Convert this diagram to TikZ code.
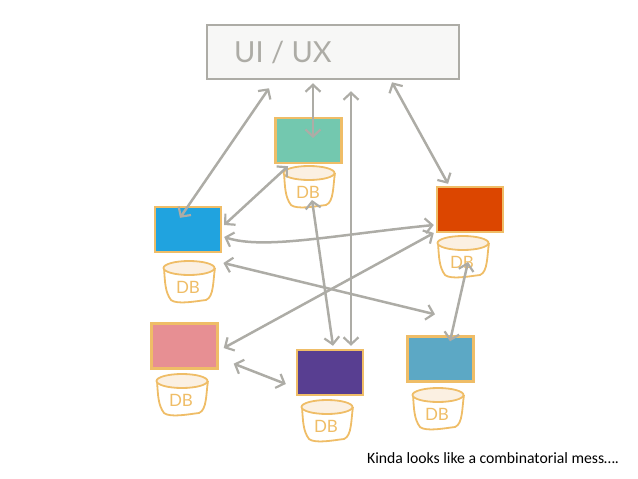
\documentclass[tikz,border=0pt]{standalone}
\usepackage{fontspec}
\setmainfont{Carlito}
\newfontfamily\sketchfont{Lato}
\usepackage{tikz}
\usetikzlibrary{arrows.meta, positioning, shapes.geometric}
\definecolor{linkgray}{HTML}{ADACA6}
\definecolor{tuborange}{HTML}{EFBD67}
\definecolor{tubfill}{HTML}{FBF0E2}
\def\tubfont{\sketchfont\fontsize{17}{17}\selectfont}
% name, centre of the lid
\newcommand{\dbtub}[3]{
    \draw[tub line] (#2-25,#3) .. controls (#2-24,#3+14) and (#2-24,#3+24) .. (#2-18,#3+32)
        .. controls (#2-12,#3+37) and (#2+8,#3+33) .. (#2+17,#3+32)
        .. controls (#2+25,#3+29) and (#2+24,#3+12) .. (#2+26,#3);
    \node[tub lid] (#1) at (#2,#3) {};
    \node[tub label] (#1text) at (#2-1,#3+19) {DB};
}
\begin{document}
\begin{tikzpicture}[
    x=1pt,
    y=-1pt,
    link/.style={
        draw=#1,
        line width=2.5pt,
        <->,
        >={Straight Barb[length=7pt, width=15pt, line width=2.2pt]}
    },
    service/.style={
        draw=tuborange,
        line width=2.4pt,
        rectangle,
        inner sep=0pt,
        minimum width=66pt,
        minimum height=45pt
    },
    tub line/.style={
        draw=tuborange,
        line width=1.8pt
    },
    tub lid/.style={
        draw=tuborange,
        fill=tubfill,
        line width=1.8pt,
        ellipse,
        inner sep=0pt,
        minimum width=51pt,
        minimum height=14pt
    },
    tub label/.style={
        text=tuborange,
        font=\tubfont
    }
]
    \useasboundingbox (0,0) rectangle (638,479);

    \node[draw=linkgray, line width=2.5pt, fill=white!90!linkgray, rectangle, inner sep=0pt, minimum width=252pt, minimum height=54pt] (ui) at (333,52) {};
    \node[text=linkgray, font=\sketchfont\fontsize{29}{29}\selectfont] (uitext) at (283,52) {UI / UX};

    \dbtub{tealdb}{309}{173}
    \dbtub{reddb}{463}{243}
    \dbtub{bluedb}{189}{268}
    \dbtub{pinkdb}{182}{381}
    \dbtub{purpledb}{327}{407}
    \dbtub{skydb}{438}{395}

    \node[service, fill={rgb,255:red,115;green,200;blue,175}] (teal) at (308.5,140.5) {};
    \node[service, fill={rgb,255:red,32;green,163;blue,223}] (blue) at (188,229.5) {};
    \node[service, fill={rgb,255:red,220;green,70;blue,0}] (red) at (470,209.5) {};
    \node[service, fill={rgb,255:red,231;green,143;blue,147}] (pink) at (184.5,346) {};
    \node[service, fill={rgb,255:red,88;green,62;blue,145}] (purple) at (330,372.5) {};
    \node[service, fill={rgb,255:red,92;green,168;blue,197}] (sky) at (440.5,359) {};

    \draw[link=linkgray] ([shift={(-64,8)}]ui.south) -- ([shift={(-8,12)}]blue.north);
    \draw[link=linkgray] ([shift={(-20,3)}]ui.south) -- ([shift={(4.5,-2.5)}]teal.center);
    \draw[link=linkgray] ([shift={(18,11)}]ui.south) -- ([shift={(21,-3)}]purple.north);
    \draw[link=linkgray] ([shift={(59,2)}]ui.south) -- ([shift={(-22,-2)}]red.north);

    \draw[link=linkgray] ([shift={(-20.5,2)}]teal.south) -- ([shift={(2,-4.5)}]blue.east);
    \draw[link=linkgray] ([shift={(2,7.5)}]blue.east) .. controls +(40,13) and +(-100,10) .. ([shift={(-2,15.5)}]red.west);
    \draw[link=linkgray] ([shift={(-2,23.5)}]red.west) -- ([shift={(5,2)}]pink.east);
    \draw[link=linkgray] ([shift={(8,-5)}]bluedb.east) -- ([shift={(-5.5,-21)}]sky.north);

    \draw[link=linkgray] ([shift={(3,27)}]tealdb.center) -- ([shift={(3,-3)}]purple.north);
    \draw[link=linkgray] ([shift={(5,19)}]reddb.center) -- ([shift={(9.5,6)}]sky.north);
    \draw[link=linkgray] ([shift={(15,-6)}]pink.south east) -- ([shift={(-10,11.5)}]purple.west);

    \node[anchor=base west, inner sep=0pt, font=\fontsize{15.7}{15.7}\selectfont] (caption) at (367,463) {Kinda looks like a combinatorial mess….};
\end{tikzpicture}
\end{document}
